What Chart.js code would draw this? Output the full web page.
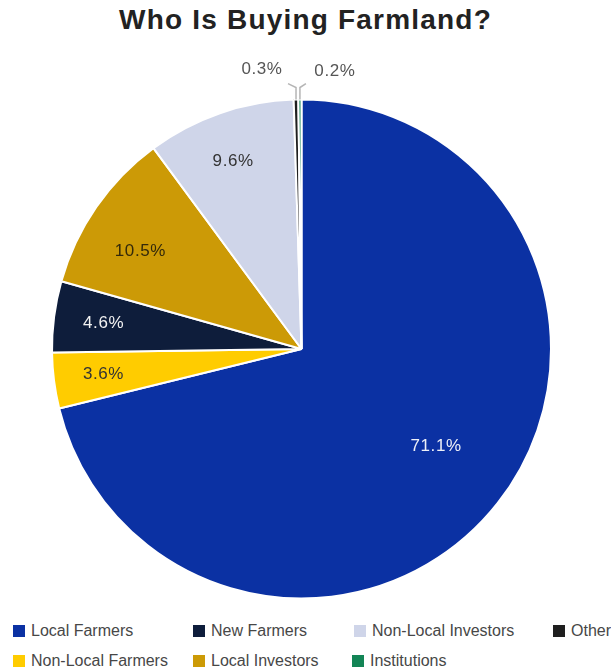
<!DOCTYPE html>
<html>
<head>
<meta charset="utf-8">
<script src="https://cdn.jsdelivr.net/npm/chart.js@4"></script>
<style>
  html, body { margin:0; padding:0; background:#fff; }
  #wrap { position:relative; width:611px; height:669px; overflow:hidden; font-family:"Liberation Sans", Arial, sans-serif; }
  #title { position:absolute; left:0; top:4px; width:611px; text-align:center; font-weight:bold; font-size:28px; color:#222; letter-spacing:1.2px; }
  #cv { position:absolute; left:0; top:40px; }
  .lg { position:absolute; font-size:16px; color:#474747; white-space:nowrap; line-height:18px; }
  .lg span.sw { position:absolute; left:-18px; top:3px; width:12px; height:12px; }
</style>
</head>
<body>
<div id="wrap">
  <div id="title">Who Is Buying Farmland?</div>
  <canvas id="cv" width="611" height="580"></canvas>
  <div id="legend"></div>
</div>
<script>
const categories = ["Local Farmers", "Non-Local Farmers", "New Farmers", "Local Investors", "Non-Local Investors", "Other", "Institutions"];
const values = [71.1, 3.6, 4.6, 10.5, 9.6, 0.3, 0.2];
const valueLabels = ["71.1%", "3.6%", "4.6%", "10.5%", "9.6%", "0.3%", "0.2%"];
const colors = ["#0b31a3", "#ffcc00", "#0e1d3b", "#cc9a06", "#cfd5e9", "#1f1f1f", "#138556"];
const labelColors = ["#eef0f8", "#333333", "#f2f2f2", "#33290a", "#333333", "#555555", "#555555"];
// label placement: fraction of radius for inside labels (plus small pixel nudges), or outside leader spec
const labelRadius = [0.66, 0.80, 0.80, 0.80, 0.80, null, null];
const labelNudge = [[5, -4], [0, 0], [0, 0], [3, 16], [-3, 1], [0, 0], [0, 0]];
const outsideLabels = { 5: { bend: [-8, -12], text: [-34, -30] }, 6: { bend: [6, -12], text: [35, -28] } };
// legend layout (column-major grid in reference)
const legendOrder = [["Local Farmers", 31, 631], ["New Farmers", 211, 631], ["Non-Local Investors", 372, 631], ["Other", 571, 631],
                     ["Non-Local Farmers", 31, 661], ["Local Investors", 211, 661], ["Institutions", 370, 661]];

const labelPlugin = {
  id: 'sliceLabels',
  afterDatasetsDraw(chart) {
    const ctx = chart.ctx;
    const meta = chart.getDatasetMeta(0);
    ctx.save();
    ctx.font = '17px "Liberation Sans", Arial, sans-serif';
    ctx.letterSpacing = '0.6px';
    ctx.textAlign = 'center';
    ctx.textBaseline = 'middle';
    meta.data.forEach((arc, i) => {
      const p = arc.getProps(['x', 'y', 'startAngle', 'endAngle', 'outerRadius'], true);
      const mid = (p.startAngle + p.endAngle) / 2;
      if (labelRadius[i] != null) {
        const r = p.outerRadius * labelRadius[i];
        ctx.fillStyle = labelColors[i];
        ctx.fillText(valueLabels[i], p.x + Math.cos(mid) * r + labelNudge[i][0], p.y + Math.sin(mid) * r + labelNudge[i][1]);
      } else {
        const o = outsideLabels[i];
        const ex = p.x + Math.cos(mid) * p.outerRadius;
        const ey = p.y + Math.sin(mid) * p.outerRadius;
        ctx.strokeStyle = '#b5b5b5';
        ctx.lineWidth = 1.5;
        ctx.beginPath();
        ctx.moveTo(ex, ey);
        ctx.lineTo(ex, ey + o.bend[1]);
        ctx.lineTo(ex + o.bend[0], ey + o.bend[1] - 4);
        ctx.stroke();
        ctx.fillStyle = labelColors[i];
        ctx.fillText(valueLabels[i], ex + o.text[0], ey + o.text[1]);
      }
    });
    ctx.restore();
  }
};

new Chart(document.getElementById('cv'), {
  type: 'pie',
  data: {
    labels: categories,
    datasets: [{
      data: values,
      backgroundColor: colors,
      borderColor: '#ffffff',
      borderWidth: 2
    }]
  },
  options: {
    responsive: false,
    animation: false,
    layout: { padding: { left: 51, right: 59, top: 58, bottom: 20 } },
    plugins: { legend: { display: false }, tooltip: { enabled: false }, title: { display: false } }
  },
  plugins: [labelPlugin]
});

const lg = document.getElementById('legend');
legendOrder.forEach(([name, x, y]) => {
  const i = categories.indexOf(name);
  const d = document.createElement('div');
  d.className = 'lg';
  d.style.left = x + 'px';
  d.style.top = (y - 9) + 'px';
  d.innerHTML = '<span class="sw" style="background:' + colors[i] + '"></span>' + name;
  lg.appendChild(d);
});
</script>
</body>
</html>
